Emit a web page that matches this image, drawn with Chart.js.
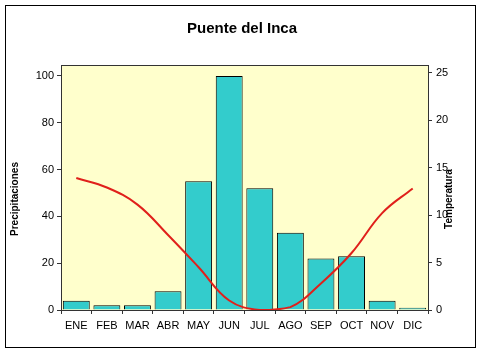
<!DOCTYPE html>
<html lang="es">
<head>
<meta charset="UTF-8">
<title>Puente del Inca</title>
<script src="https://cdn.jsdelivr.net/npm/chart.js"></script>
<style>
  body { margin: 0; background: #fff; }
  canvas { display: block; }
</style>
</head>
<body>
<canvas id="chart" width="485" height="352"></canvas>
<script>
// Datos
const meses = ['ENE', 'FEB', 'MAR', 'ABR', 'MAY', 'JUN', 'JUL', 'AGO', 'SEP', 'OCT', 'NOV', 'DIC'];
const precipitaciones = [4, 2, 2, 8, 55, 100, 52, 33, 22, 23, 4, 1];
const temperatura = [13.9, 12.9, 11.1, 7.9, 4.5, 1.0, 0, 0.3, 2.8, 6.0, 10.2, 12.8];

const fuente = "'Liberation Sans', Arial, sans-serif";

// fondo amarillo, marco y titulos de ejes
const decoracion = {
    id: 'decoracion',
    beforeDraw(chart) {
        const ctx = chart.ctx;
        const a = chart.chartArea;
        ctx.save();
        ctx.fillStyle = '#fff';
        ctx.fillRect(0, 0, chart.width, chart.height);
        ctx.strokeStyle = '#000';
        ctx.lineWidth = 1;
        ctx.strokeRect(5.5, 5.5, 470, 342);
        ctx.fillStyle = '#FFFFCC';
        ctx.fillRect(a.left, a.top, a.right - a.left, a.bottom - a.top);
        ctx.restore();
    },
    afterDraw(chart) {
        const ctx = chart.ctx;
        const a = chart.chartArea;
        ctx.save();
        ctx.strokeStyle = '#333';
        ctx.lineWidth = 1;
        ctx.strokeRect(a.left + 0.5, a.top + 0.5, a.right - a.left, a.bottom - a.top);

        ctx.fillStyle = '#000';
        ctx.font = 'bold 10px ' + fuente;
        ctx.textAlign = 'center';
        ctx.textBaseline = 'middle';
        ctx.translate(15, a.top + 134);
        ctx.rotate(-Math.PI / 2);
        ctx.fillText('Precipitaciones', 0, 0);
        ctx.restore();

        ctx.save();
        ctx.fillStyle = '#000';
        ctx.font = 'bold 10px ' + fuente;
        ctx.textAlign = 'center';
        ctx.textBaseline = 'middle';
        ctx.translate(a.right + 21, a.top + 134);
        ctx.rotate(-Math.PI / 2);
        ctx.fillText('Temperatura', 0, 0);
        ctx.restore();
    }
};

new Chart(document.getElementById('chart').getContext('2d'), {
    data: {
        labels: meses,
        datasets: [
            {
                type: 'line',
                label: 'Temperatura',
                data: temperatura,
                yAxisID: 'y1',
                borderColor: '#E0201B',
                borderWidth: 2,
                pointRadius: 0,
                tension: 0.4,
                fill: false,
                order: 1
            },
            {
                type: 'bar',
                label: 'Precipitaciones',
                data: precipitaciones,
                yAxisID: 'y',
                backgroundColor: '#33CCCC',
                borderColor: '#000',
                borderWidth: 1,
                categoryPercentage: 1,
                barPercentage: 0.88,
                order: 2
            }
        ]
    },
    options: {
        responsive: false,
        animation: false,
        layout: { padding: { left: 11, right: 12, top: 0, bottom: 0 } },
        plugins: {
            legend: { display: false },
            tooltip: { enabled: false },
            title: {
                display: true,
                text: 'Puente del Inca',
                color: '#000',
                font: { family: fuente, size: 15, weight: 'bold', lineHeight: 1.2 },
                padding: { top: 20, bottom: 27 }
            }
        },
        scales: {
            x: {
                afterFit: s => { s.height = 42; },
                grid: { offset: true, drawOnChartArea: false, drawTicks: true, tickLength: 4, color: '#333' },
                border: { color: '#000' },
                ticks: { color: '#000', padding: 5, font: { family: fuente, size: 11 }, maxRotation: 0 }
            },
            y: {
                position: 'left',
                min: 0,
                max: 104.7,
                afterFit: s => { s.width = 50; },
                grid: { drawOnChartArea: false, tickLength: 4, color: '#333' },
                border: { color: '#333' },
                ticks: { stepSize: 20, includeBounds: false, color: '#000', padding: 3, font: { family: fuente, size: 11 } }
            },
            y1: {
                position: 'right',
                min: 0,
                max: 25.8,
                afterFit: s => { s.width = 45; },
                grid: { drawOnChartArea: false, tickLength: 4, color: '#333' },
                border: { color: '#333' },
                ticks: { stepSize: 5, includeBounds: false, color: '#000', padding: 4, font: { family: fuente, size: 11 } }
            }
        }
    },
    plugins: [decoracion]
});
</script>
</body>
</html>
